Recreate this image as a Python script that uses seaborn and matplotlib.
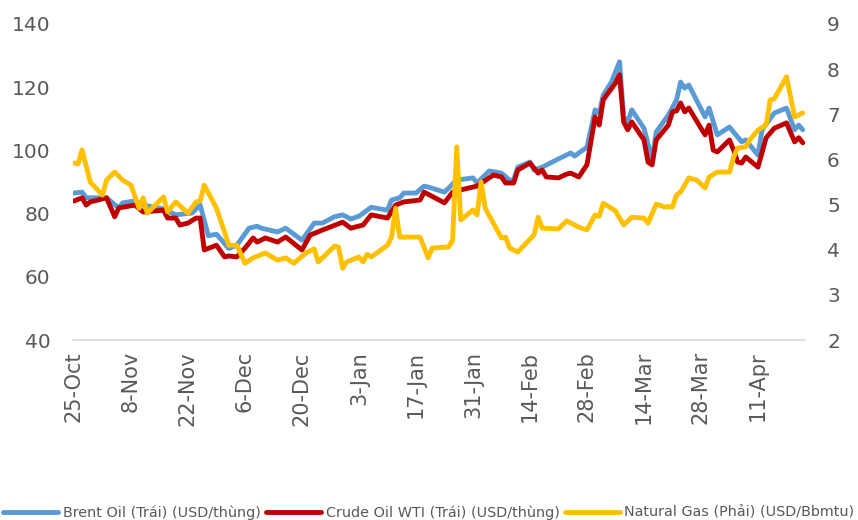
import pandas as pd
import matplotlib
matplotlib.use("Agg")
import matplotlib.pyplot as plt
import matplotlib.dates as mdates
import seaborn as sns

# ==========================================
# Data (day offsets counted from 25-Oct-2021)
# ==========================================

start = "2021-10-25"

brent_day = [0, 2, 3, 8, 11, 12, 15, 17, 22, 25, 29, 31, 33, 35, 38, 40, 43, 45, 46, 50,
             52, 56, 59, 61, 64, 66, 68, 70, 73, 77, 78, 80, 81, 84, 86, 87, 91, 94, 98, 99,
             102, 105, 107, 108, 109, 112, 113, 115, 119, 122, 123, 124, 126, 128, 129, 130,
             132, 134, 135, 136, 137, 140, 142, 143, 146, 148, 149, 150, 151, 155, 156, 158,
             161, 162, 164, 165, 168, 169, 172, 175, 177, 178, 179]
brent = [86.5, 86.8, 85, 85, 81.8, 83.4, 84, 82.7, 81.5, 79.6, 80.2, 82.7, 73, 73.5, 69, 70,
         75.4, 76, 75.4, 74.2, 75.4, 71.6, 77, 77, 79, 79.6, 78.3, 79.2, 82, 81.1, 84.3, 85,
         86.5, 86.5, 88.7, 88.4, 86.8, 90.6, 91.3, 89.7, 93.5, 92.8, 90.6, 90.6, 94.7, 96.3,
         93.8, 94.7, 97.3, 99.2, 98.2, 99.2, 101, 112.8, 111.8, 117.5, 121.6, 128, 110.6, 109,
         112.8, 107, 97, 105.8, 111.2, 116, 121.6, 119.7, 120.7, 110.6, 113.4, 104.9, 107.4,
         105.8, 102.7, 103.3, 98.5, 106.5, 111.8, 113.4, 106.5, 108, 106.5]

wti_day = [0, 2, 3, 4, 8, 10, 11, 15, 17, 22, 23, 25, 26, 28, 30, 31, 32, 35, 37, 38,
           40, 42, 44, 45, 47, 50, 52, 56, 58, 61, 66, 68, 71, 73, 77, 79, 81, 85, 86, 91,
           93, 95, 99, 103, 105, 106, 108, 109, 112, 114, 115, 116, 119, 121, 122, 124, 126,
           128, 129, 130, 133, 134, 135, 136, 137, 140, 141, 142, 143, 146, 147, 148, 149,
           150, 151, 155, 156, 157, 158, 161, 162, 163, 164, 165, 168, 170, 172, 175, 177,
           178, 179]
wti = [84, 85, 82.7, 83.7, 85, 79, 81.8, 82.7, 80.5, 81.1, 78.6, 78.6, 76.4, 77, 78.6, 78.6,
       68.5, 70, 66.3, 66.6, 66.3, 69.1, 72.3, 71, 72.3, 71, 72.6, 68.5, 73.2, 74.8, 77.3,
       75.4, 76.4, 79.6, 78.6, 82.7, 83.7, 84.3, 86.8, 83.4, 86.8, 87.5, 88.7, 92.2, 91.6,
       89.7, 89.7, 93.8, 96, 92.8, 93.8, 91.6, 91.3, 92.5, 92.8, 91.6, 95.5, 110.6, 108, 116,
       121.3, 123.9, 109, 106.5, 109, 103.3, 96.3, 95.4, 103.3, 108, 112.2, 112.5, 115, 112.2,
       113.4, 104.9, 108, 100.1, 99.5, 103.3, 100.1, 96.3, 96, 97.9, 94.7, 104, 107, 108.7,
       102.7, 104, 102.4]

gas_day = [0, 1, 2, 4, 7, 8, 10, 12, 14, 16, 17, 18, 22, 23, 25, 28, 30, 31, 32, 35,
           37, 38, 40, 42, 44, 47, 50, 52, 54, 57, 59, 60, 64, 65, 66, 67, 70, 71, 72, 73,
           77, 78, 79, 80, 85, 87, 88, 92, 93, 94, 95, 98, 99, 100, 101, 103, 105, 106, 107,
           109, 113, 114, 115, 119, 121, 124, 126, 128, 129, 130, 133, 135, 137, 140, 141,
           143, 145, 147, 148, 149, 151, 153, 155, 156, 158, 161, 162, 163, 165, 166, 168,
           170, 171, 172, 175, 177, 179]
gas = [5.92, 5.9, 6.21, 5.5, 5.21, 5.54, 5.72, 5.54, 5.43, 4.92, 5.15, 4.81, 5.17, 4.84,
       5.06, 4.81, 5.06, 5.08, 5.43, 4.92, 4.39, 4.1, 4.1, 3.7, 3.82, 3.93, 3.77, 3.82, 3.7,
       3.93, 4.02, 3.73, 4.08, 4.06, 3.59, 3.73, 3.84, 3.73, 3.9, 3.84, 4.1, 4.28, 4.92, 4.28,
       4.28, 3.82, 4.04, 4.06, 4.21, 6.28, 4.66, 4.88, 4.77, 5.5, 4.92, 4.59, 4.26, 4.28, 4.04,
       3.95, 4.33, 4.72, 4.48, 4.46, 4.64, 4.5, 4.44, 4.77, 4.74, 5.03, 4.86, 4.55, 4.72, 4.7,
       4.59, 5.01, 4.95, 4.95, 5.21, 5.28, 5.59, 5.54, 5.37, 5.61, 5.72, 5.72, 6.05, 6.25,
       6.28, 6.43, 6.65, 6.76, 7.32, 7.34, 7.83, 6.94, 7.03]

labels = ["Brent Oil (Trái) (USD/thùng)",
          "Crude Oil WTI (Trái) (USD/thùng)",
          "Natural Gas (Phải) (USD/Bbmtu)"]
colors = ["#5B9BD5", "#C00000", "#FFC000"]


def to_frame(days, values):
    d = pd.Timestamp(start) + pd.to_timedelta(days, unit="D")
    return pd.DataFrame({"date": d, "value": values})


df_brent = to_frame(brent_day, brent)
df_wti = to_frame(wti_day, wti)
df_gas = to_frame(gas_day, gas)

# ==========================================
# Plot
# ==========================================

sns.set_style("white")
plt.rcParams["font.family"] = ["DejaVu Sans"]

fig = plt.figure(figsize=(8.58, 5.2), dpi=100)
ax = fig.add_axes([0.085, 0.346, 0.853, 0.608])
ax2 = ax.twinx()

lw = 3.5
sns.lineplot(data=df_brent, x="date", y="value", ax=ax, color=colors[0],
             linewidth=lw, label=labels[0], legend=False)
sns.lineplot(data=df_wti, x="date", y="value", ax=ax, color=colors[1],
             linewidth=lw, label=labels[1], legend=False)
sns.lineplot(data=df_gas, x="date", y="value", ax=ax2, color=colors[2],
             linewidth=lw, label=labels[2], legend=False)

for line in ax.get_lines() + ax2.get_lines():
    line.set_solid_joinstyle("round")
    line.set_solid_capstyle("round")

x0 = pd.Timestamp(start)
ax.set_xlim(x0 - pd.Timedelta(hours=6), x0 + pd.Timedelta(days=179.5))
ax.set_ylim(40, 140)
ax.set_yticks(range(40, 141, 20))
ax2.set_ylim(2, 9)
ax2.set_yticks(range(2, 10))

# ticks every two weeks from the first date
ticks = [x0 + pd.Timedelta(days=14 * i) for i in range(13)]
ax.set_xticks(ticks)
ax.xaxis.set_major_formatter(mdates.DateFormatter("%-d-%b"))

for a in (ax, ax2):
    a.set_xlabel("")
    a.set_ylabel("")
    for s in a.spines.values():
        s.set_visible(False)
    a.grid(False)

ax.spines["bottom"].set_visible(True)
ax.spines["bottom"].set_color("#D9D9D9")
ax.spines["bottom"].set_linewidth(1.2)

tick_color = "#595959"
ax.tick_params(axis="x", length=0, pad=8, labelsize=15, labelcolor=tick_color,
               labelrotation=90)
ax.tick_params(axis="y", length=0, pad=16, labelsize=14.5, labelcolor=tick_color)
ax2.tick_params(axis="y", length=0, pad=16, labelsize=14.5, labelcolor=tick_color)

# Legend
h1, l1 = ax.get_legend_handles_labels()
h2, l2 = ax2.get_legend_handles_labels()
fig.legend(h1 + h2, l1 + l2, loc="center", bbox_to_anchor=(0.5, 0.014), ncol=3,
           frameon=False, fontsize=10.4, handlelength=3.8, handletextpad=0.3,
           columnspacing=0.4, labelcolor=tick_color)

plt.savefig("out.png", dpi=100)
